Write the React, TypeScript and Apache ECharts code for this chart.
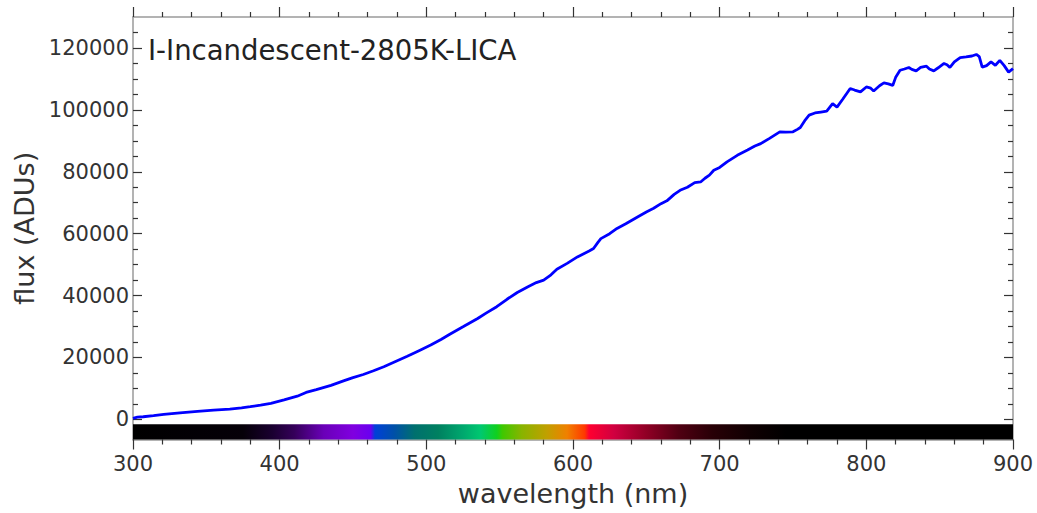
import React, { useEffect, useRef } from "react";
import * as echarts from "echarts";

const chartTitle = "I-Incandescent-2805K-LICA";
const xName = "wavelength (nm)";
const yName = "flux (ADUs)";

const wavelengths = [
  300, 303, 307, 314, 321, 332, 344, 355, 366, 374, 380, 387, 394, 403, 412, 418, 425, 435, 444, 450,
  457, 464, 471, 479, 487, 495, 503, 510, 516, 525, 535, 541, 548, 555, 562, 569, 575, 580, 585, 589,
  596, 603, 608, 611, 614, 617, 619, 625, 630, 636, 644, 650, 655, 660, 664, 669, 673, 678, 683, 687,
  690, 693, 696, 700, 705, 712, 719, 724, 728, 734, 741, 745, 750, 753, 755, 758, 761, 765, 769, 773,
  777, 780, 784, 789, 792, 796, 800, 803, 805, 809, 812, 815, 818, 820, 823, 826, 829, 831, 834, 837,
  841, 843, 846, 849, 853, 855, 857, 860, 864, 868, 872, 875, 877, 879, 882, 885, 888, 891, 894, 897, 900,
];
const flux = [
  300, 700, 850, 1200, 1600, 2100, 2600, 3000, 3300, 3700, 4100, 4600, 5200, 6300, 7500, 8700, 9600, 11000, 12500, 13500,
  14500, 15700, 17000, 18700, 20400, 22200, 24000, 25800, 27500, 29900, 32600, 34400, 36400, 38800, 41000, 42800, 44200, 45000, 46700, 48500,
  50400, 52500, 53700, 54400, 55200, 57200, 58400, 60000, 61700, 63200, 65400, 67000, 68200, 69700, 70600, 72700, 74000, 75000, 76500, 76700,
  77900, 78900, 80500, 81400, 83200, 85300, 87000, 88300, 89100, 90800, 92900, 92800, 92900, 93700, 94300, 96500, 98300, 99000, 99300, 99600,
  102000, 100900, 103500, 106900, 106400, 105800, 107400, 107000, 106100, 107800, 108700, 108400, 107900, 110500, 112800, 113200, 113700, 113100, 112600, 113700,
  114100, 113200, 112600, 113600, 115000, 114600, 113700, 115500, 116900, 117100, 117400, 117900, 117200, 113800, 114300, 115500, 114400, 116000, 114300, 112200, 113300,
];

const yMajorTicks = [0, 20000, 40000, 60000, 80000, 100000, 120000];
const yMinorTicks = [
  -5000, 5000, 10000, 15000, 25000, 30000, 35000, 45000, 50000, 55000, 65000, 70000, 75000,
  85000, 90000, 95000, 105000, 110000, 115000, 125000,
];
const Y_MIN = -6500;
const Y_MAX = 130000;
const X_MIN = 300;
const X_MAX = 900;

// spectrum band: [start wavelength, end wavelength, top value]
const spectrumBand = [[300, 900, -1600]];
const spectrumStopsNm = [300, 375, 395, 410, 430, 450, 462, 465, 478, 492, 508, 525, 537, 548, 552, 565, 582, 596, 608, 611, 628, 650, 672, 695, 720, 745, 900];
const spectrumStopsColor = [
  "#000000", "#050008", "#1a0030", "#35005a", "#6a00b8", "#8000e0", "#6a00f0", "#0040d8", "#0050a8",
  "#00706e", "#008060", "#00a86e", "#00c870", "#10d020", "#40c800", "#88b400", "#c0a000", "#f08000",
  "#ff3800", "#ff0030", "#d00040", "#900025", "#500012", "#280006", "#100002", "#000000", "#000000",
];

const FONT = "DejaVu Sans";
const AXIS_LINE = { show: true, onZero: false, lineStyle: { color: "#9a9a9a", width: 1.5 } };
const TICK_COLOR = "#333";

export default function App() {
  const ref = useRef<HTMLDivElement>(null);
  useEffect(() => {
    if (!ref.current) return;
    const chart = echarts.init(ref.current, undefined, { renderer: "svg" });
    const stops = spectrumStopsNm.map((nm, i) => ({
      offset: (nm - X_MIN) / (X_MAX - X_MIN),
      color: spectrumStopsColor[i],
    }));
    const lineData = wavelengths.map((w, i) => [w, flux[i]]);
    const baseX = {
      type: "value",
      min: X_MIN,
      max: X_MAX,
      interval: 100,
      splitLine: { show: false },
      axisLine: AXIS_LINE,
      minorTick: { show: true, splitNumber: 5, length: 5, lineStyle: { color: TICK_COLOR, width: 1.2 } },
    };
    const baseY = {
      type: "value",
      min: Y_MIN,
      max: Y_MAX,
      splitLine: { show: false },
    };
    chart.setOption({
      animation: false,
      backgroundColor: "#ffffff",
      title: {
        text: chartTitle,
        left: 143,
        top: 31,
        textStyle: { fontFamily: FONT, fontSize: 27.5, fontWeight: "normal", color: "#222" },
      },
      grid: { left: 133, right: 24, top: 17, bottom: 73.5, containLabel: false },
      xAxis: [
        {
          ...baseX,
          position: "bottom",
          name: xName,
          nameLocation: "middle",
          nameGap: 40,
          nameTextStyle: { fontFamily: FONT, fontSize: 27, color: "#333" },
          axisTick: { show: true, inside: false, length: 10, lineStyle: { color: TICK_COLOR, width: 1.2 } },
          axisLabel: { show: true, margin: 14, fontFamily: FONT, fontSize: 21, color: "#333" },
        },
        {
          ...baseX,
          position: "top",
          axisTick: { show: true, inside: false, length: 10, lineStyle: { color: TICK_COLOR, width: 1.2 } },
          axisLabel: { show: false },
        },
      ],
      yAxis: [
        {
          ...baseY,
          position: "left",
          name: yName,
          nameLocation: "middle",
          nameGap: 86,
          nameTextStyle: { fontFamily: FONT, fontSize: 27, color: "#333" },
          axisLine: AXIS_LINE,
          axisTick: { show: true, inside: true, length: 9, customValues: yMajorTicks, lineStyle: { color: TICK_COLOR, width: 1.2 } },
          axisLabel: {
            show: true,
            margin: 4,
            customValues: yMajorTicks,
            formatter: (v: number) => String(v),
            fontFamily: FONT,
            fontSize: 21,
            color: "#333",
          },
        },
        {
          ...baseY,
          position: "left",
          axisLine: { show: false },
          axisTick: { show: true, inside: true, length: 5, customValues: yMinorTicks, lineStyle: { color: TICK_COLOR, width: 1.2 } },
          axisLabel: { show: false, customValues: yMinorTicks },
        },
        {
          ...baseY,
          position: "right",
          axisLine: AXIS_LINE,
          axisTick: { show: true, inside: true, length: 9, customValues: yMajorTicks, lineStyle: { color: TICK_COLOR, width: 1.2 } },
          axisLabel: { show: false, customValues: yMajorTicks },
        },
        {
          ...baseY,
          position: "right",
          axisLine: { show: false },
          axisTick: { show: true, inside: true, length: 5, customValues: yMinorTicks, lineStyle: { color: TICK_COLOR, width: 1.2 } },
          axisLabel: { show: false, customValues: yMinorTicks },
        },
      ],
      series: [
        {
          type: "custom",
          xAxisIndex: 0,
          yAxisIndex: 0,
          clip: false,
          z: 4,
          silent: true,
          encode: { x: [0, 1], y: 2 },
          data: spectrumBand,
          renderItem: (_params: any, api: any) => {
            const p1 = api.coord([api.value(0), api.value(2)]);
            const p2 = api.coord([api.value(1), Y_MIN]);
            return {
              type: "rect",
              shape: { x: p1[0], y: p1[1], width: p2[0] - p1[0], height: p2[1] - p1[1] },
              style: { fill: new echarts.graphic.LinearGradient(0, 0, 1, 0, stops) },
            };
          },
        },
        {
          type: "line",
          xAxisIndex: 0,
          yAxisIndex: 0,
          data: lineData,
          showSymbol: false,
          symbol: "none",
          z: 5,
          lineStyle: { color: "#0000ff", width: 2.8 },
        },
      ],
    });
    return () => chart.dispose();
  }, []);
  return (
    <div
      ref={ref}
      style={{ position: "fixed", left: 0, top: 0, width: "1037px", height: "513px", background: "#fff" }}
    />
  );
}
